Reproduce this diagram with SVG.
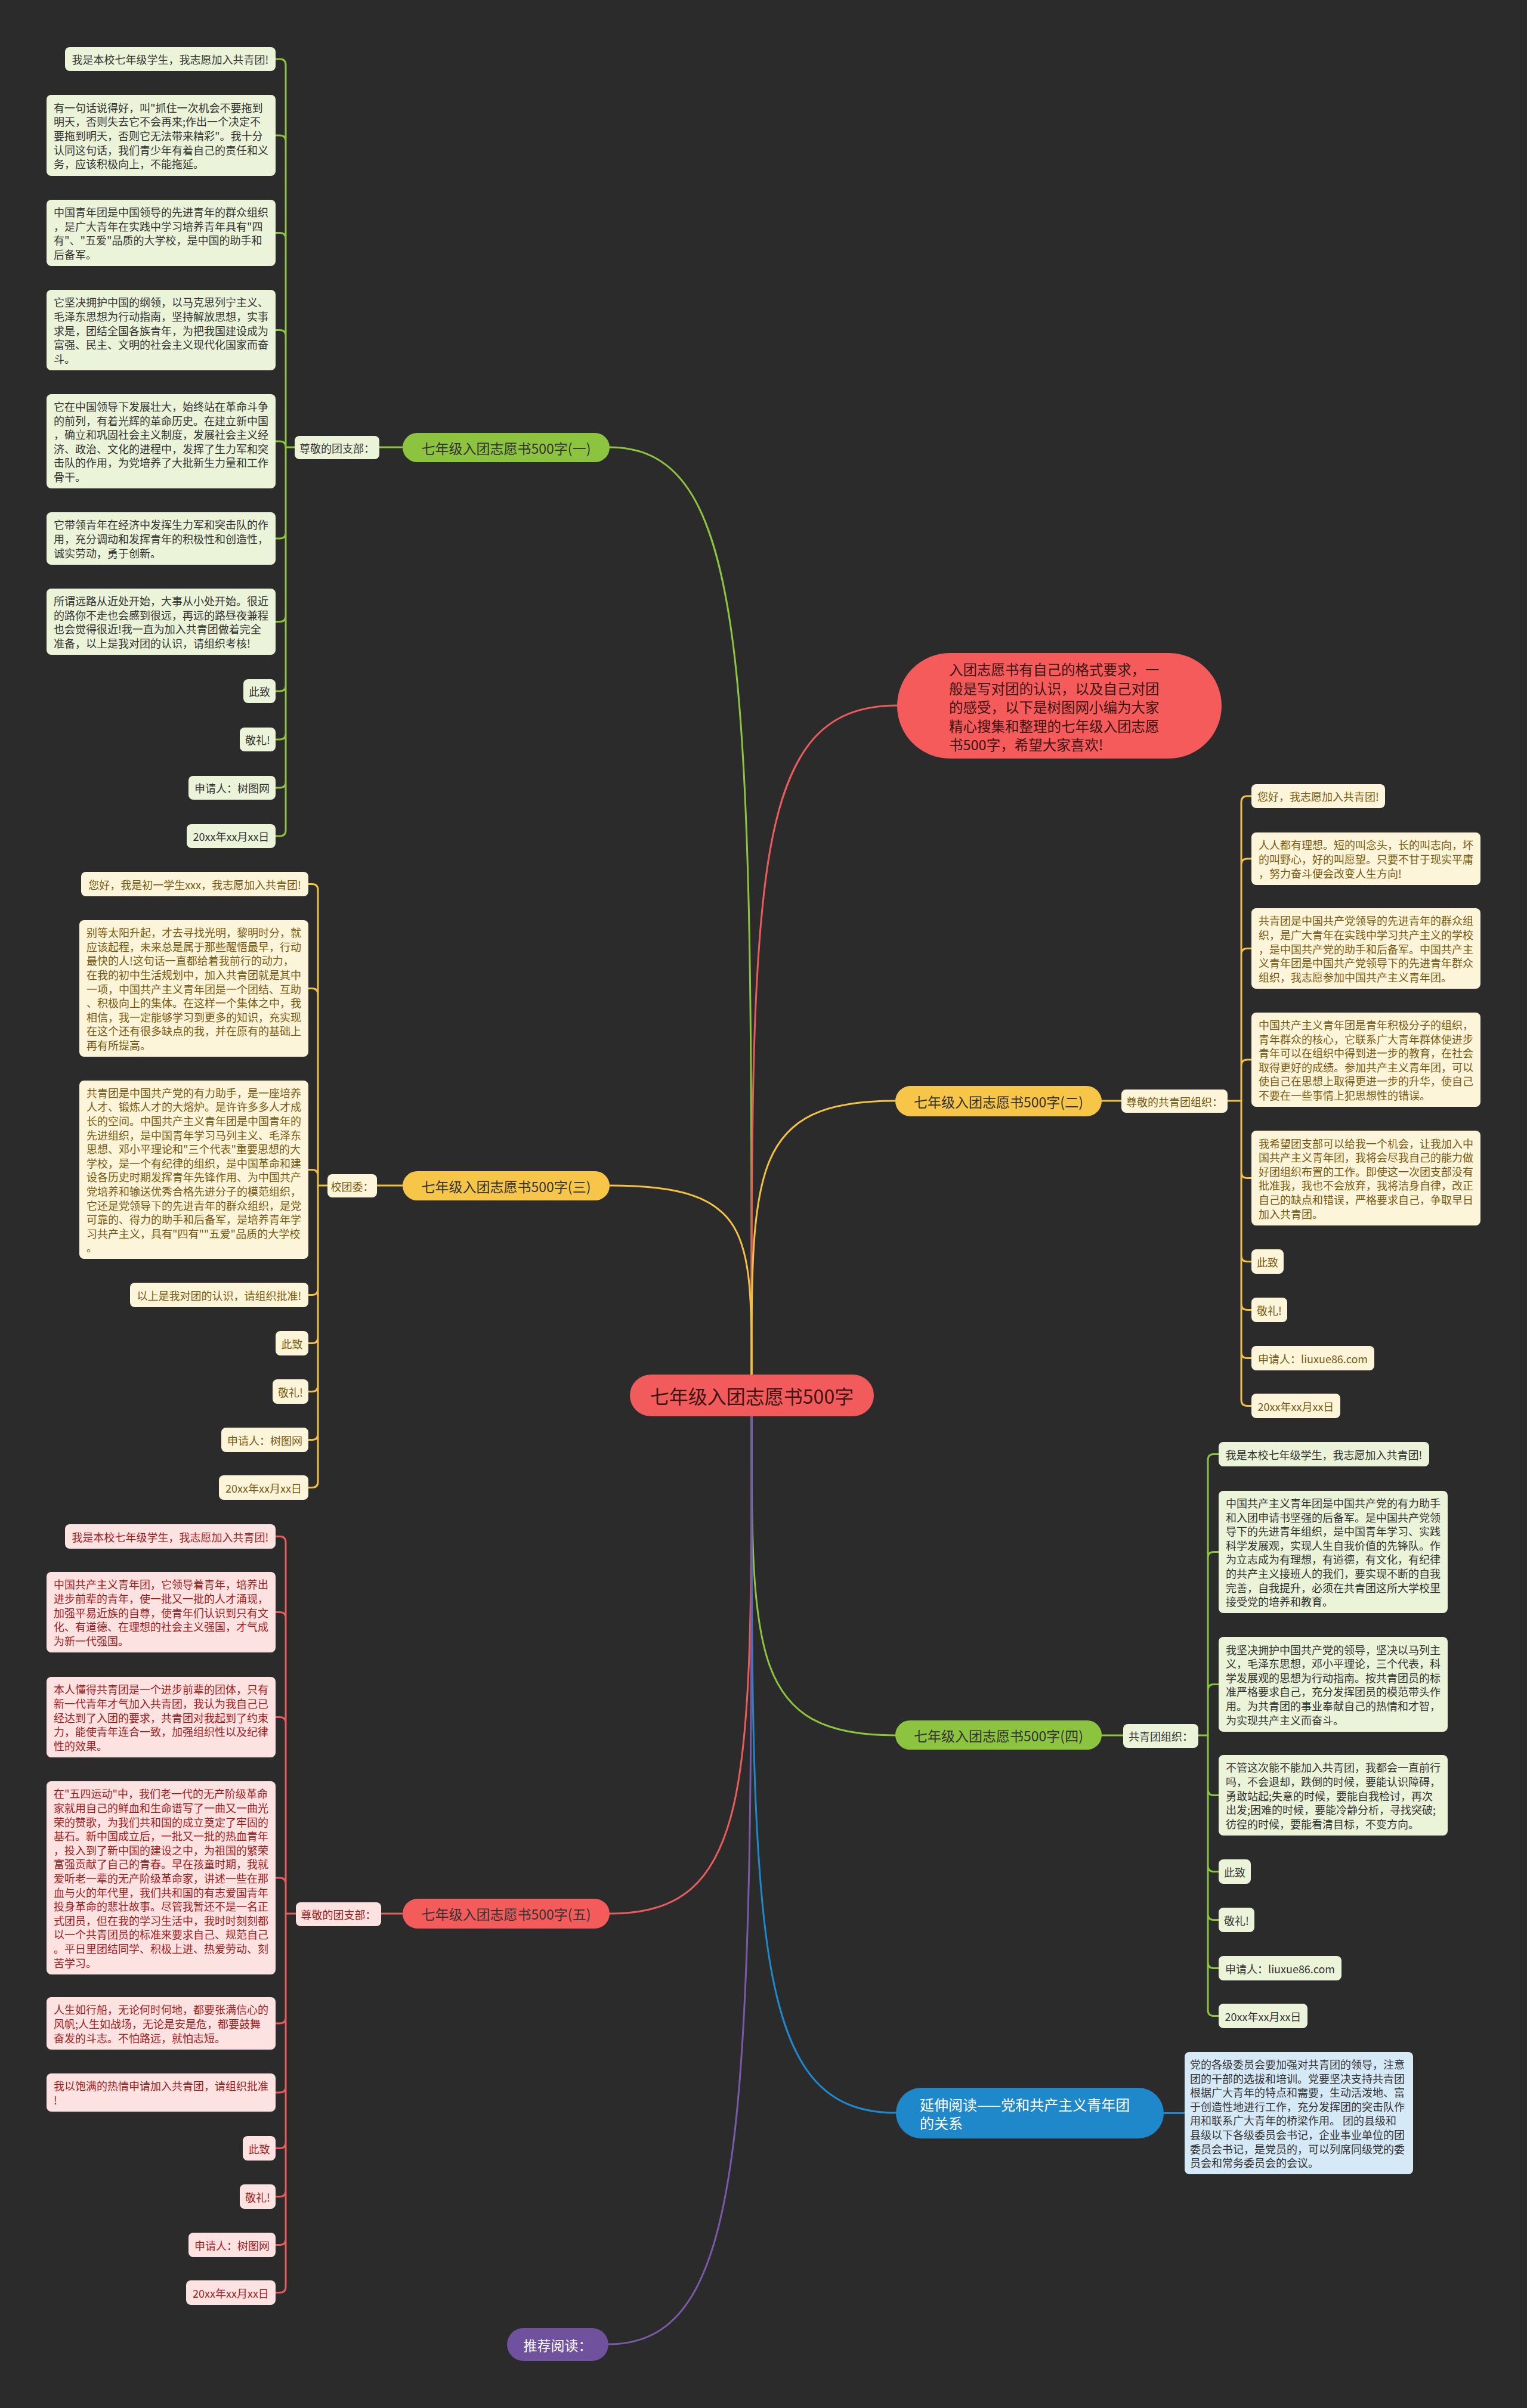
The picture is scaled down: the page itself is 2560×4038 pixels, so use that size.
<svg xmlns="http://www.w3.org/2000/svg" width="2560" height="4038" viewBox="0 0 2560 4038">
<style>
text{font-family:"Noto Sans CJK SC","Noto Sans",sans-serif;dominant-baseline:central;font-size:18px}
.cn{fill:none;stroke-width:3;stroke-linecap:round;stroke-linejoin:round}
.cg{stroke:#8cc43f}.cy{stroke:#f2c043}.cr{stroke:#ea5b5b}.cb{stroke:#1f88cb}.cp{stroke:#7a5aa8}
.lg rect{fill:#ebf3d8}.lg text{fill:#333333}
.ly rect{fill:#fdf5da}.ly text{fill:#7a5a10}
.lr rect{fill:#fde2e2}.lr text{fill:#a11c1c}
.lb rect{fill:#d6e9f7}.lb text{fill:#333333}
.m{text-anchor:middle}
.pill text{font-size:23px;fill:#333333;text-anchor:middle}
</style>
<rect x="0" y="0" width="2560" height="4038" fill="#2b2b2b"/>

<g id="connectors">
<!-- main curves -->
<path class="cn cg" d="M1022 750 C1260 750 1260 1139 1260 2305"/>
<path class="cn cr" d="M1504 1183 C1260 1183 1260 1464 1260 2305"/>
<path class="cn cy" d="M1501 1846 C1260 1846 1260 1961 1260 2305"/>
<path class="cn cy" d="M1022 1988 C1260 1988 1260 2067 1260 2305"/>
<path class="cn cg" d="M1501 2910 C1260 2910 1260 2775 1260 2375"/>
<path class="cn cr" d="M1022 3209 C1260 3209 1260 3000 1260 2375"/>
<path class="cn cb" d="M1502 3543 C1260 3543 1260 3251 1260 2375"/>
<path class="cn cp" d="M1020 3931 C1260 3931 1260 3542 1260 2375"/>
<!-- branch 1 -->
<path class="cn cg" d="M636 750 H675 M494 750 H479"/>
<path class="cn cg" d="M479 750 V109 Q479 99 469 99 H462 M479 750 V237 Q479 227 469 227 H462 M479 750 V400.5 Q479 390.5 469 390.5 H462 M479 750 V563.5 Q479 553.5 469 553.5 H462 M479 750 Q479 740 469 740 H462 M479 750 V893 Q479 903 469 903 H462 M479 750 V1032.5 Q479 1042.5 469 1042.5 H462 M479 750 V1149 Q479 1159 469 1159 H462 M479 750 V1230 Q479 1240 469 1240 H462 M479 750 V1311 Q479 1321 469 1321 H462 M479 750 V1392 Q479 1402 469 1402 H462"/>
<!-- branch 3 -->
<path class="cn cy" d="M632 1988 H675 M549 1988 H533"/>
<path class="cn cy" d="M533 1988 V1492.5 Q533 1482.5 523 1482.5 H517 M533 1988 V1667.5 Q533 1657.5 523 1657.5 H517 M533 1988 V1971.5 Q533 1961.5 523 1961.5 H517 M533 1988 V2161.5 Q533 2171.5 523 2171.5 H517 M533 1988 V2242.5 Q533 2252.5 523 2252.5 H517 M533 1988 V2323.5 Q533 2333.5 523 2333.5 H517 M533 1988 V2404.5 Q533 2414.5 523 2414.5 H517 M533 1988 V2484.5 Q533 2494.5 523 2494.5 H517"/>
<!-- branch 5 -->
<path class="cn cr" d="M639 3209 H675 M496 3209 H479"/>
<path class="cn cr" d="M479 3209 V2586.5 Q479 2576.5 469 2576.5 H462 M479 3209 V2713.5 Q479 2703.5 469 2703.5 H462 M479 3209 V2889.5 Q479 2879.5 469 2879.5 H462 M479 3209 V3159 Q479 3149 469 3149 H462 M479 3209 V3383 Q479 3393 469 3393 H462 M479 3209 V3499 Q479 3509 469 3509 H462 M479 3209 V3592.5 Q479 3602.5 469 3602.5 H462 M479 3209 V3673.5 Q479 3683.5 469 3683.5 H462 M479 3209 V3754.5 Q479 3764.5 469 3764.5 H462 M479 3209 V3834.5 Q479 3844.5 469 3844.5 H462"/>
<!-- branch 2 -->
<path class="cn cy" d="M1847 1846 H1880 M2058 1846 H2081"/>
<path class="cn cy" d="M2081 1846 V1345 Q2081 1335 2091 1335 H2098 M2081 1846 V1450 Q2081 1440 2091 1440 H2098 M2081 1846 V1600.5 Q2081 1590.5 2091 1590.5 H2098 M2081 1846 V1787 Q2081 1777 2091 1777 H2098 M2081 1846 V1965.5 Q2081 1975.5 2091 1975.5 H2098 M2081 1846 V2105.5 Q2081 2115.5 2091 2115.5 H2098 M2081 1846 V2186.5 Q2081 2196.5 2091 2196.5 H2098 M2081 1846 V2267.5 Q2081 2277.5 2091 2277.5 H2098 M2081 1846 V2347.5 Q2081 2357.5 2091 2357.5 H2098"/>
<!-- branch 4 -->
<path class="cn cg" d="M1847 2910 H1883 M2009 2910 H2025"/>
<path class="cn cg" d="M2025 2910 V2448.5 Q2025 2438.5 2035 2438.5 H2043 M2025 2910 V2612.5 Q2025 2602.5 2035 2602.5 H2043 M2025 2910 V2834.5 Q2025 2824.5 2035 2824.5 H2043 M2025 2910 V3000.5 Q2025 3010.5 2035 3010.5 H2043 M2025 2910 V3128.5 Q2025 3138.5 2035 3138.5 H2043 M2025 2910 V3209.5 Q2025 3219.5 2035 3219.5 H2043 M2025 2910 V3290.5 Q2025 3300.5 2035 3300.5 H2043 M2025 2910 V3370.5 Q2025 3380.5 2035 3380.5 H2043"/>
<!-- extended reading -->
<path class="cn cb" d="M1951 3543.5 H1986"/>
</g>

<g id="center">
<rect x="1056" y="2305" width="409" height="70" rx="35" fill="#f25b5b"/>
<text x="1260.5" y="2340" class="m" style="font-size:32px" fill="#3d1414">七年级入团志愿书500字</text>
</g>

<g id="intro">
<rect x="1504" y="1095" width="544" height="177" rx="88.5" fill="#f65b5b"/>
<text x="1591" y="1122" style="font-size:23.5px" fill="#3d1414"><tspan x="1591">入团志愿书有自己的格式要求，一</tspan><tspan x="1591" dy="31.5">般是写对团的认识，以及自己对团</tspan><tspan x="1591" dy="31.5">的感受，以下是树图网小编为大家</tspan><tspan x="1591" dy="31.5">精心搜集和整理的七年级入团志愿</tspan><tspan x="1591" dy="31.5">书500字，希望大家喜欢!</tspan></text>
</g>

<!-- Branch 1 -->
<g id="b1" class="pill"><rect x="675" y="726" width="347" height="49" rx="24.5" fill="#8cc43f"/><text x="848.5" y="750.5">七年级入团志愿书500字(一)</text></g>
<g id="b1-label" class="lg"><rect x="494" y="731" width="142" height="39" rx="8"/><text x="565" y="750.5" class="m">尊敬的团支部：</text></g>
<g id="b1-l1" class="lg"><rect x="109" y="79" width="353" height="40" rx="8"/><text x="285.5" y="99" class="m">我是本校七年级学生，我志愿加入共青团!</text></g>
<g id="b1-l2" class="lg"><rect x="78" y="159" width="384" height="136" rx="8"/><text x="90" y="179.8"><tspan x="90">有一句话说得好，叫"抓住一次机会不要拖到</tspan><tspan x="90" dy="23.6">明天，否则失去它不会再来;作出一个决定不</tspan><tspan x="90" dy="23.6">要拖到明天，否则它无法带来精彩"。我十分</tspan><tspan x="90" dy="23.6">认同这句话，我们青少年有着自己的责任和义</tspan><tspan x="90" dy="23.6">务，应该积极向上，不能拖延。</tspan></text></g>
<g id="b1-l3" class="lg"><rect x="78" y="335" width="384" height="111" rx="8"/><text x="90" y="355.1"><tspan x="90">中国青年团是中国领导的先进青年的群众组织</tspan><tspan x="90" dy="23.6">，是广大青年在实践中学习培养青年具有"四</tspan><tspan x="90" dy="23.6">有"、"五爱"品质的大学校，是中国的助手和</tspan><tspan x="90" dy="23.6">后备军。</tspan></text></g>
<g id="b1-l4" class="lg"><rect x="78" y="486" width="384" height="135" rx="8"/><text x="90" y="506.3"><tspan x="90">它坚决拥护中国的纲领，以马克思列宁主义、</tspan><tspan x="90" dy="23.6">毛泽东思想为行动指南，坚持解放思想，实事</tspan><tspan x="90" dy="23.6">求是，团结全国各族青年，为把我国建设成为</tspan><tspan x="90" dy="23.6">富强、民主、文明的社会主义现代化国家而奋</tspan><tspan x="90" dy="23.6">斗。</tspan></text></g>
<g id="b1-l5" class="lg"><rect x="78" y="661" width="384" height="158" rx="8"/><text x="90" y="681"><tspan x="90">它在中国领导下发展壮大，始终站在革命斗争</tspan><tspan x="90" dy="23.6">的前列，有着光辉的革命历史。在建立新中国</tspan><tspan x="90" dy="23.6">，确立和巩固社会主义制度，发展社会主义经</tspan><tspan x="90" dy="23.6">济、政治、文化的进程中，发挥了生力军和突</tspan><tspan x="90" dy="23.6">击队的作用，为党培养了大批新生力量和工作</tspan><tspan x="90" dy="23.6">骨干。</tspan></text></g>
<g id="b1-l6" class="lg"><rect x="78" y="859" width="384" height="88" rx="8"/><text x="90" y="879.4"><tspan x="90">它带领青年在经济中发挥生力军和突击队的作</tspan><tspan x="90" dy="23.6">用，充分调动和发挥青年的积极性和创造性，</tspan><tspan x="90" dy="23.6">诚实劳动，勇于创新。</tspan></text></g>
<g id="b1-l7" class="lg"><rect x="78" y="987" width="384" height="111" rx="8"/><text x="90" y="1007.1"><tspan x="90">所谓远路从近处开始，大事从小处开始。很近</tspan><tspan x="90" dy="23.6">的路你不走也会感到很远，再远的路昼夜兼程</tspan><tspan x="90" dy="23.6">也会觉得很近!我一直为加入共青团做着完全</tspan><tspan x="90" dy="23.6">准备，以上是我对团的认识，请组织考核!</tspan></text></g>
<g id="b1-l8" class="lg"><rect x="408" y="1139" width="54" height="40" rx="8"/><text x="435" y="1159" class="m">此致</text></g>
<g id="b1-l9" class="lg"><rect x="402" y="1220" width="60" height="40" rx="8"/><text x="432" y="1240" class="m">敬礼!</text></g>
<g id="b1-l10" class="lg"><rect x="316" y="1301" width="146" height="40" rx="8"/><text x="389" y="1321" class="m">申请人：树图网</text></g>
<g id="b1-l11" class="lg"><rect x="313" y="1382" width="149" height="40" rx="8"/><text x="387.5" y="1402" class="m">20xx年xx月xx日</text></g>

<!-- Branch 3 -->
<g id="b3" class="pill"><rect x="675" y="1964" width="347" height="49" rx="24.5" fill="#f7c548"/><text x="848.5" y="1988.5">七年级入团志愿书500字(三)</text></g>
<g id="b3-label" class="ly"><rect x="549" y="1969" width="83" height="39" rx="8"/><text x="590.5" y="1988.5" class="m">校团委：</text></g>
<g id="b3-l1" class="ly"><rect x="136" y="1462" width="381" height="41" rx="8"/><text x="326.5" y="1482.5" class="m">您好，我是初一学生xxx，我志愿加入共青团!</text></g>
<g id="b3-l2" class="ly"><rect x="133" y="1543" width="384" height="229" rx="8"/><text x="145" y="1563.1"><tspan x="145">别等太阳升起，才去寻找光明，黎明时分，就</tspan><tspan x="145" dy="23.6">应该起程，未来总是属于那些醒悟最早，行动</tspan><tspan x="145" dy="23.6">最快的人!这句话一直都给着我前行的动力，</tspan><tspan x="145" dy="23.6">在我的初中生活规划中，加入共青团就是其中</tspan><tspan x="145" dy="23.6">一项，中国共产主义青年团是一个团结、互助</tspan><tspan x="145" dy="23.6">、积极向上的集体。在这样一个集体之中，我</tspan><tspan x="145" dy="23.6">相信，我一定能够学习到更多的知识，充实现</tspan><tspan x="145" dy="23.6">在这个还有很多缺点的我，并在原有的基础上</tspan><tspan x="145" dy="23.6">再有所提高。</tspan></text></g>
<g id="b3-l3" class="ly"><rect x="133" y="1812" width="384" height="299" rx="8"/><text x="145" y="1831.7"><tspan x="145">共青团是中国共产党的有力助手，是一座培养</tspan><tspan x="145" dy="23.6">人才、锻炼人才的大熔炉。是许许多多人才成</tspan><tspan x="145" dy="23.6">长的空间。中国共产主义青年团是中国青年的</tspan><tspan x="145" dy="23.6">先进组织，是中国青年学习马列主义、毛泽东</tspan><tspan x="145" dy="23.6">思想、邓小平理论和"三个代表"重要思想的大</tspan><tspan x="145" dy="23.6">学校，是一个有纪律的组织，是中国革命和建</tspan><tspan x="145" dy="23.6">设各历史时期发挥青年先锋作用、为中国共产</tspan><tspan x="145" dy="23.6">党培养和输送优秀合格先进分子的模范组织，</tspan><tspan x="145" dy="23.6">它还是党领导下的先进青年的群众组织，是党</tspan><tspan x="145" dy="23.6">可靠的、得力的助手和后备军，是培养青年学</tspan><tspan x="145" dy="23.6">习共产主义，具有"四有""五爱"品质的大学校</tspan><tspan x="145" dy="23.6">。</tspan></text></g>
<g id="b3-l4" class="ly"><rect x="218" y="2151" width="299" height="41" rx="8"/><text x="367.5" y="2171.5" class="m">以上是我对团的认识，请组织批准!</text></g>
<g id="b3-l5" class="ly"><rect x="462" y="2232" width="55" height="41" rx="8"/><text x="489.5" y="2252.5" class="m">此致</text></g>
<g id="b3-l6" class="ly"><rect x="457" y="2313" width="60" height="41" rx="8"/><text x="487" y="2333.5" class="m">敬礼!</text></g>
<g id="b3-l7" class="ly"><rect x="371" y="2394" width="146" height="41" rx="8"/><text x="444" y="2414.5" class="m">申请人：树图网</text></g>
<g id="b3-l8" class="ly"><rect x="367" y="2474" width="150" height="41" rx="8"/><text x="442" y="2494.5" class="m">20xx年xx月xx日</text></g>

<!-- Branch 5 -->
<g id="b5" class="pill"><rect x="675" y="3184" width="347" height="50" rx="25" fill="#f45b5b"/><text x="848.5" y="3209">七年级入团志愿书500字(五)</text></g>
<g id="b5-label" class="lr"><rect x="496" y="3190" width="143" height="40" rx="8"/><text x="567.5" y="3210" class="m">尊敬的团支部：</text></g>
<g id="b5-l1" class="lr"><rect x="109" y="2556" width="353" height="41" rx="8"/><text x="285.5" y="2576.5" class="m">我是本校七年级学生，我志愿加入共青团!</text></g>
<g id="b5-l2" class="lr"><rect x="78" y="2636" width="384" height="135" rx="8"/><text x="90" y="2656.3"><tspan x="90">中国共产主义青年团，它领导着青年，培养出</tspan><tspan x="90" dy="23.6">进步前辈的青年，使一批又一批的人才涌现，</tspan><tspan x="90" dy="23.6">加强平易近族的自尊，使青年们认识到只有文</tspan><tspan x="90" dy="23.6">化、有道德、在理想的社会主义强国，才气成</tspan><tspan x="90" dy="23.6">为新一代强国。</tspan></text></g>
<g id="b5-l3" class="lr"><rect x="78" y="2812" width="384" height="135" rx="8"/><text x="90" y="2832.3"><tspan x="90">本人懂得共青团是一个进步前辈的团体，只有</tspan><tspan x="90" dy="23.6">新一代青年才气加入共青团，我认为我自己已</tspan><tspan x="90" dy="23.6">经达到了入团的要求，共青团对我起到了约束</tspan><tspan x="90" dy="23.6">力，能使青年连合一致，加强组织性以及纪律</tspan><tspan x="90" dy="23.6">性的效果。</tspan></text></g>
<g id="b5-l4" class="lr"><rect x="78" y="2987" width="384" height="324" rx="8"/><text x="90" y="3007.4"><tspan x="90">在"五四运动"中，我们老一代的无产阶级革命</tspan><tspan x="90" dy="23.6">家就用自己的鲜血和生命谱写了一曲又一曲光</tspan><tspan x="90" dy="23.6">荣的赞歌，为我们共和国的成立奠定了牢固的</tspan><tspan x="90" dy="23.6">基石。新中国成立后，一批又一批的热血青年</tspan><tspan x="90" dy="23.6">，投入到了新中国的建设之中，为祖国的繁荣</tspan><tspan x="90" dy="23.6">富强贡献了自己的青春。早在孩童时期，我就</tspan><tspan x="90" dy="23.6">爱听老一辈的无产阶级革命家，讲述一些在那</tspan><tspan x="90" dy="23.6">血与火的年代里，我们共和国的有志爱国青年</tspan><tspan x="90" dy="23.6">投身革命的悲壮故事。尽管我暂还不是一名正</tspan><tspan x="90" dy="23.6">式团员，但在我的学习生活中，我时时刻刻都</tspan><tspan x="90" dy="23.6">以一个共青团员的标准来要求自己、规范自己</tspan><tspan x="90" dy="23.6">。平日里团结同学、积极上进、热爱劳动、刻</tspan><tspan x="90" dy="23.6">苦学习。</tspan></text></g>
<g id="b5-l5" class="lr"><rect x="78" y="3349" width="384" height="88" rx="8"/><text x="90" y="3369.4"><tspan x="90">人生如行船，无论何时何地，都要张满信心的</tspan><tspan x="90" dy="23.6">风帆;人生如战场，无论是安是危，都要鼓舞</tspan><tspan x="90" dy="23.6">奋发的斗志。不怕路远，就怕志短。</tspan></text></g>
<g id="b5-l6" class="lr"><rect x="78" y="3477" width="384" height="64" rx="8"/><text x="90" y="3497.2"><tspan x="90">我以饱满的热情申请加入共青团，请组织批准</tspan><tspan x="90" dy="23.6">!</tspan></text></g>
<g id="b5-l7" class="lr"><rect x="407" y="3582" width="55" height="41" rx="8"/><text x="434.5" y="3602.5" class="m">此致</text></g>
<g id="b5-l8" class="lr"><rect x="402" y="3663" width="60" height="41" rx="8"/><text x="432" y="3683.5" class="m">敬礼!</text></g>
<g id="b5-l9" class="lr"><rect x="316" y="3744" width="146" height="41" rx="8"/><text x="389" y="3764.5" class="m">申请人：树图网</text></g>
<g id="b5-l10" class="lr"><rect x="312" y="3824" width="150" height="41" rx="8"/><text x="387" y="3844.5" class="m">20xx年xx月xx日</text></g>

<!-- Branch 2 -->
<g id="b2" class="pill"><rect x="1501" y="1821" width="346" height="51" rx="25.5" fill="#f7c548"/><text x="1674" y="1846.5">七年级入团志愿书500字(二)</text></g>
<g id="b2-label" class="ly"><rect x="1880" y="1827" width="178" height="39" rx="8"/><text x="1969" y="1846.5" class="m">尊敬的共青团组织：</text></g>
<g id="b2-l1" class="ly"><rect x="2098" y="1315" width="224" height="40" rx="8"/><text x="2210" y="1335" class="m">您好，我志愿加入共青团!</text></g>
<g id="b2-l2" class="ly"><rect x="2098" y="1396" width="384" height="88" rx="8"/><text x="2110" y="1416.4"><tspan x="2110">人人都有理想。短的叫念头，长的叫志向，坏</tspan><tspan x="2110" dy="23.6">的叫野心，好的叫愿望。只要不甘于现实平庸</tspan><tspan x="2110" dy="23.6">，努力奋斗便会改变人生方向!</tspan></text></g>
<g id="b2-l3" class="ly"><rect x="2098" y="1523" width="384" height="135" rx="8"/><text x="2110" y="1543.3"><tspan x="2110">共青团是中国共产党领导的先进青年的群众组</tspan><tspan x="2110" dy="23.6">织，是广大青年在实践中学习共产主义的学校</tspan><tspan x="2110" dy="23.6">，是中国共产党的助手和后备军。中国共产主</tspan><tspan x="2110" dy="23.6">义青年团是中国共产党领导下的先进青年群众</tspan><tspan x="2110" dy="23.6">组织，我志愿参加中国共产主义青年团。</tspan></text></g>
<g id="b2-l4" class="ly"><rect x="2098" y="1698" width="384" height="158" rx="8"/><text x="2110" y="1718"><tspan x="2110">中国共产主义青年团是青年积极分子的组织，</tspan><tspan x="2110" dy="23.6">青年群众的核心，它联系广大青年群体使进步</tspan><tspan x="2110" dy="23.6">青年可以在组织中得到进一步的教育，在社会</tspan><tspan x="2110" dy="23.6">取得更好的成绩。参加共产主义青年团，可以</tspan><tspan x="2110" dy="23.6">使自己在思想上取得更进一步的升华，使自己</tspan><tspan x="2110" dy="23.6">不要在一些事情上犯思想性的错误。</tspan></text></g>
<g id="b2-l5" class="ly"><rect x="2098" y="1896" width="384" height="159" rx="8"/><text x="2110" y="1916.5"><tspan x="2110">我希望团支部可以给我一个机会，让我加入中</tspan><tspan x="2110" dy="23.6">国共产主义青年团，我将会尽我自己的能力做</tspan><tspan x="2110" dy="23.6">好团组织布置的工作。即使这一次团支部没有</tspan><tspan x="2110" dy="23.6">批准我，我也不会放弃，我将洁身自律，改正</tspan><tspan x="2110" dy="23.6">自己的缺点和错误，严格要求自己，争取早日</tspan><tspan x="2110" dy="23.6">加入共青团。</tspan></text></g>
<g id="b2-l6" class="ly"><rect x="2098" y="2095" width="54" height="41" rx="8"/><text x="2125" y="2115.5" class="m">此致</text></g>
<g id="b2-l7" class="ly"><rect x="2098" y="2176" width="60" height="41" rx="8"/><text x="2128" y="2196.5" class="m">敬礼!</text></g>
<g id="b2-l8" class="ly"><rect x="2098" y="2257" width="206" height="41" rx="8"/><text x="2201" y="2277.5" class="m">申请人：liuxue86.com</text></g>
<g id="b2-l9" class="ly"><rect x="2098" y="2337" width="149" height="41" rx="8"/><text x="2172.5" y="2357.5" class="m">20xx年xx月xx日</text></g>

<!-- Branch 4 -->
<g id="b4" class="pill"><rect x="1501" y="2885" width="346" height="49" rx="24.5" fill="#8cc43f"/><text x="1674" y="2909.5">七年级入团志愿书500字(四)</text></g>
<g id="b4-label" class="lg"><rect x="1883" y="2891" width="126" height="40" rx="8"/><text x="1946" y="2911" class="m">共青团组织：</text></g>
<g id="b4-l1" class="lg"><rect x="2043" y="2418" width="353" height="41" rx="8"/><text x="2219.5" y="2438.5" class="m">我是本校七年级学生，我志愿加入共青团!</text></g>
<g id="b4-l2" class="lg"><rect x="2043" y="2500" width="384" height="205" rx="8"/><text x="2055" y="2519.9"><tspan x="2055">中国共产主义青年团是中国共产党的有力助手</tspan><tspan x="2055" dy="23.6">和入团申请书坚强的后备军。是中国共产党领</tspan><tspan x="2055" dy="23.6">导下的先进青年组织，是中国青年学习、实践</tspan><tspan x="2055" dy="23.6">科学发展观，实现人生自我价值的先锋队。作</tspan><tspan x="2055" dy="23.6">为立志成为有理想，有道德，有文化，有纪律</tspan><tspan x="2055" dy="23.6">的共产主义接班人的我们，要实现不断的自我</tspan><tspan x="2055" dy="23.6">完善，自我提升，必须在共青团这所大学校里</tspan><tspan x="2055" dy="23.6">接受党的培养和教育。</tspan></text></g>
<g id="b4-l3" class="lg"><rect x="2043" y="2745" width="384" height="159" rx="8"/><text x="2055" y="2765.5"><tspan x="2055">我坚决拥护中国共产党的领导，坚决以马列主</tspan><tspan x="2055" dy="23.6">义，毛泽东思想，邓小平理论，三个代表，科</tspan><tspan x="2055" dy="23.6">学发展观的思想为行动指南。按共青团员的标</tspan><tspan x="2055" dy="23.6">准严格要求自己，充分发挥团员的模范带头作</tspan><tspan x="2055" dy="23.6">用。为共青团的事业奉献自己的热情和才智，</tspan><tspan x="2055" dy="23.6">为实现共产主义而奋斗。</tspan></text></g>
<g id="b4-l4" class="lg"><rect x="2043" y="2943" width="384" height="135" rx="8"/><text x="2055" y="2963.3"><tspan x="2055">不管这次能不能加入共青团，我都会一直前行</tspan><tspan x="2055" dy="23.6">吗，不会退却，跌倒的时候，要能认识障碍，</tspan><tspan x="2055" dy="23.6">勇敢站起;失意的时候，要能自我检讨，再次</tspan><tspan x="2055" dy="23.6">出发;困难的时候，要能冷静分析，寻找突破;</tspan><tspan x="2055" dy="23.6">彷徨的时候，要能看清目标，不变方向。</tspan></text></g>
<g id="b4-l5" class="lg"><rect x="2043" y="3118" width="54" height="41" rx="8"/><text x="2070" y="3138.5" class="m">此致</text></g>
<g id="b4-l6" class="lg"><rect x="2043" y="3199" width="60" height="41" rx="8"/><text x="2073" y="3219.5" class="m">敬礼!</text></g>
<g id="b4-l7" class="lg"><rect x="2043" y="3280" width="206" height="41" rx="8"/><text x="2146" y="3300.5" class="m">申请人：liuxue86.com</text></g>
<g id="b4-l8" class="lg"><rect x="2043" y="3360" width="149" height="41" rx="8"/><text x="2117.5" y="3380.5" class="m">20xx年xx月xx日</text></g>

<!-- Extended reading -->
<g id="ext">
<rect x="1502" y="3501" width="449" height="85" rx="42.5" fill="#1f88cb"/>
<text x="1542" y="3528" style="font-size:24px" fill="#ffffff"><tspan x="1542">延伸阅读——党和共产主义青年团</tspan><tspan x="1542" dy="31">的关系</tspan></text>
</g>
<g id="ext-l1" class="lb"><rect x="1986" y="3441" width="383" height="205" rx="8"/><text x="1995" y="3460.9"><tspan x="1995">党的各级委员会要加强对共青团的领导，注意</tspan><tspan x="1995" dy="23.6">团的干部的选拔和培训。党要坚决支持共青团</tspan><tspan x="1995" dy="23.6">根据广大青年的特点和需要，生动活泼地、富</tspan><tspan x="1995" dy="23.6">于创造性地进行工作，充分发挥团的突击队作</tspan><tspan x="1995" dy="23.6">用和联系广大青年的桥梁作用。 团的县级和</tspan><tspan x="1995" dy="23.6">县级以下各级委员会书记，企业事业单位的团</tspan><tspan x="1995" dy="23.6">委员会书记，是党员的，可以列席同级党的委</tspan><tspan x="1995" dy="23.6">员会和常务委员会的会议。</tspan></text></g>

<!-- Recommended -->
<g id="rec">
<rect x="850" y="3904" width="170" height="55" rx="27.5" fill="#6f519e"/>
<text x="935" y="3931.5" class="m" style="font-size:23px" fill="#ffffff">推荐阅读：</text>
</g>
</svg>
